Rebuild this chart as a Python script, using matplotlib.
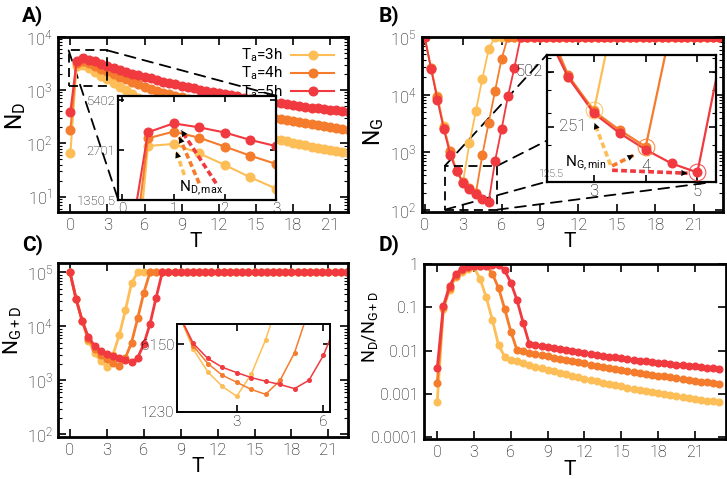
import numpy as np
import matplotlib
matplotlib.use('Agg')
import matplotlib.pyplot as plt
from matplotlib.patches import Rectangle, ConnectionPatch
from matplotlib.ticker import FixedLocator, FixedFormatter, LogLocator, NullFormatter, NullLocator
from matplotlib.transforms import blended_transform_factory

# ---------------- data ----------------
T = [0, 0.5, 1, 1.5, 2, 2.5, 3, 3.5, 4, 4.5, 5, 5.5, 6, 6.5, 7, 7.5, 8, 8.5, 9, 9.5,
     10, 10.5, 11, 11.5, 12, 12.5, 13, 13.5, 14, 14.5, 15, 15.5, 16, 16.5, 17, 17.5,
     18, 18.5, 19, 19.5, 20, 20.5, 21, 21.5, 22, 22.5, 23]

labels = ['$T_a$=3h', '$T_a$=4h', '$T_a$=5h']

# Panel A: N_D
ND_3 = [65, 2855, 2935, 2578, 2194, 1849, 1581, 1350, 1150, 990, 845, 720, 610, 555, 505,
        462, 425, 390, 355, 328, 302, 280, 258, 240, 222, 207, 193, 180, 168, 157, 147,
        138, 130, 122, 115, 109, 103, 97, 92, 87, 83, 79, 75, 72, 69, 66, 63]
ND_4 = [175, 3174, 3484, 3200, 2831, 2494, 2226, 1990, 1780, 1600, 1430, 1285, 1150, 1030,
        950, 890, 835, 780, 730, 685, 642, 602, 566, 532, 500, 472, 445, 420, 397, 375,
        355, 337, 320, 304, 289, 275, 262, 250, 239, 228, 218, 208, 199, 191, 183, 176, 169]
ND_5 = [390, 3452, 3905, 3695, 3440, 3103, 2850, 2560, 2370, 2200, 2010, 1890, 1780, 1650,
        1540, 1440, 1360, 1280, 1200, 1135, 1075, 1020, 968, 920, 875, 833, 794, 757, 722,
        690, 660, 633, 607, 583, 560, 539, 520, 502, 485, 469, 454, 440, 427, 414, 402, 391, 380]

# Panel B: N_G
NG_3 = [1e5, 28700, 9300, 2840, 1000, 470, 310, 1460, 5200, 18700, 60700] + [1e5] * 36
NG_4 = [1e5, 28600, 8900, 2660, 1050, 480, 305, 240, 195, 900, 3270, 11700, 40700] + [1e5] * 34
NG_5 = [1e5, 28000, 8000, 2500, 910, 468, 297, 231, 188, 158, 141, 716, 2500, 9300,
        29000] + [1e5] * 32

# Panel C: N_G+D
NGD_3 = [1e5, 31600, 12300, 5420, 3180, 2260, 1785, 3000, 6800, 19700, 63000] + [1e5] * 36
NGD_4 = [1e5, 31800, 12400, 5860, 3880, 2940, 2490, 2100, 1870, 2600, 5000, 14000,
         42000] + [1e5] * 34
NGD_5 = [1e5, 32000, 12500, 6240, 4370, 3550, 3130, 2780, 2550, 2360, 2140, 2610, 4700,
         11000, 34000] + [1e5] * 32

# Panel D: N_D / N_G+D
R_3 = [0.00065, 0.093, 0.26, 0.50, 0.68, 0.79, 0.85, 0.45, 0.17, 0.05, 0.0133, 0.0072,
       0.0061, 0.0056, 0.0050, 0.00462, 0.00425, 0.0039, 0.00355, 0.00328, 0.00302, 0.0028,
       0.00258, 0.0024, 0.00222, 0.00207, 0.00193, 0.0018, 0.00168, 0.00157, 0.00147,
       0.00138, 0.0013, 0.00122, 0.00115, 0.00109, 0.00103, 0.00097, 0.00092, 0.00087,
       0.00083, 0.00079, 0.00075, 0.00072, 0.00069, 0.00066, 0.00063]
R_4 = [0.00175, 0.10, 0.28, 0.55, 0.73, 0.85, 0.89, 0.93, 0.94, 0.60, 0.28, 0.092, 0.0274,
       0.0103, 0.0095, 0.0089, 0.00835, 0.0078, 0.0073, 0.00685, 0.00642, 0.00602, 0.00566,
       0.00532, 0.005, 0.00472, 0.00445, 0.0042, 0.00397, 0.00375, 0.00355, 0.00337, 0.0032,
       0.00304, 0.00289, 0.00275, 0.00262, 0.0025, 0.00239, 0.00228, 0.00218, 0.00208,
       0.00199, 0.00191, 0.00183, 0.00176, 0.00169]
R_5 = [0.0039, 0.108, 0.31, 0.59, 0.79, 0.87, 0.91, 0.92, 0.93, 0.94, 0.95, 0.72, 0.375,
       0.149, 0.0443, 0.0144, 0.0136, 0.0128, 0.012, 0.01135, 0.01075, 0.0102, 0.00968,
       0.0092, 0.00875, 0.00833, 0.00794, 0.00757, 0.00722, 0.0069, 0.0066, 0.00633,
       0.00607, 0.00583, 0.0056, 0.00539, 0.0052, 0.00502, 0.00485, 0.00469, 0.00454,
       0.0044, 0.00427, 0.00414, 0.00402, 0.00391, 0.0038]

A_IN_YTICKS = [1350.5, 2701, 5402]
B_IN_YTICKS = [125.5, 251, 502]
C_IN_YTICKS = [1230, 6150]
D_YTICKS = [0.0001, 0.001, 0.01, 0.1, 1]
D_YLABELS = ['0.0001', '0.001', '0.01', '0.1', '1']

COLORS = ['#FDBE57', '#F47C2C', '#F03A40']

# ---------------- style ----------------
plt.rcParams['font.family'] = ['Roboto', 'DejaVu Sans']
plt.rcParams['mathtext.fontset'] = 'custom'
plt.rcParams['mathtext.rm'] = 'Roboto'
plt.rcParams['mathtext.it'] = 'Roboto:italic'
plt.rcParams['mathtext.bf'] = 'Roboto:bold'
plt.rcParams['mathtext.default'] = 'regular'

fig = plt.figure(figsize=(7.27, 4.79), dpi=100)


def style(ax, fs=12, lw=2.0, pad=4, majlen=6):
    for s in ax.spines.values():
        s.set_linewidth(lw)
    ax.tick_params(which='both', direction='in', top=True, right=True)
    ax.tick_params(which='major', length=majlen, width=1.2, labelsize=fs, pad=pad)
    ax.tick_params(which='minor', length=3, width=0.8)


def light(ax):
    for lab in ax.get_xticklabels() + ax.get_yticklabels():
        lab.set_fontweight('light')


def logminor(ax):
    ax.yaxis.set_minor_locator(LogLocator(base=10, subs=np.arange(2, 10), numticks=20))
    ax.yaxis.set_minor_formatter(NullFormatter())


xt = [0, 3, 6, 9, 12, 15, 18, 21]
Ta_data = list(zip([ND_3, ND_4, ND_5], COLORS, labels))

# ---------------- Panel A ----------------
axA = fig.add_axes([0.0798, 0.5568, 0.3989, 0.3666])
for y, c, lab in Ta_data:
    axA.plot(T, y, '-o', color=c, ms=6.2, lw=1.5, label=lab)
axA.set_yscale('log')
axA.set_xlim(-1, 22.45)
axA.set_ylim(5.1, 1e4)
axA.set_xticks(xt)
axA.yaxis.set_major_locator(LogLocator(base=10, numticks=10))
logminor(axA)
style(axA)
axA.set_xlabel('T', fontsize=15)
axA.xaxis.set_label_coords(0.476, -0.115)
axA.set_ylabel('$N_D$', fontsize=16.5)
axA.yaxis.set_label_coords(-0.105, 0.55)
leg = axA.legend(loc='upper right', bbox_to_anchor=(1.0, 1.02), frameon=False,
                 markerfirst=False, fontsize=11, handlelength=2.8, labelspacing=0.05,
                 handletextpad=0.6, numpoints=1)
light(axA)

# zoom rectangle + connectors
rectA = ((-0.14, 1200), 3.14, 5530 - 1200)
axA.add_patch(Rectangle(rectA[0], rectA[1], rectA[2], fill=False, ls=(0, (5, 3)),
                        lw=1.3, ec='k', zorder=5))

axAi = fig.add_axes([0.1627, 0.5825, 0.2169, 0.2177])
for con in [((rectA[0][0] + rectA[1], rectA[0][1] + rectA[2]), (1, 1)),
            ((rectA[0][0], rectA[0][1] + rectA[2]), (0, 0))]:
    cp = ConnectionPatch(xyA=con[0], coordsA='data', axesA=axA,
                         xyB=con[1], coordsB=axAi.transAxes,
                         ls=(0, (6, 4)), lw=1.3, color='k', zorder=1)
    axA.add_artist(cp)

for y, c, lab in Ta_data:
    axAi.plot(T, y, '-o', color=c, ms=6.2, lw=1.5)
axAi.set_yscale('log')
axAi.set_xlim(-0.08, 3.0)
axAi.set_ylim(1350.5, 5730)
axAi.yaxis.set_major_locator(FixedLocator(A_IN_YTICKS))
axAi.yaxis.set_major_formatter(FixedFormatter(['1350.5', '2701', '5402']))
axAi.yaxis.set_minor_locator(NullLocator())
axAi.set_xticks([0, 1, 2, 3])
style(axAi, fs=9.5, lw=1.6, pad=2, majlen=4)
axAi.tick_params(axis='x', labelsize=11, pad=1.5)
light(axAi)

# N_D,max arrows
A_TAILS = [(1.21, 1910), (1.5, 1702), (1.83, 1702)]
A_HEAD_OFF = [(0.05, 0.9), (0.11, 0.93), (0.15, 0.91)]
for (y, c, lab), tail, off in zip(Ta_data, A_TAILS, A_HEAD_OFF):
    i = int(np.argmax(y))
    hx, hy = T[i] + off[0], y[i] * off[1]
    axAi.plot([tail[0], hx], [tail[1], hy], color=c, lw=2.6, ls=(0, (1.6, 0.9)),
              solid_capstyle='butt', zorder=4)
    sx = hx - 0.2 * (hx - tail[0])
    sy = hy * (tail[1] / hy) ** 0.2
    axAi.annotate('', xy=(hx, hy), xytext=(sx, sy),
                  arrowprops=dict(arrowstyle='-|>,head_length=0.45,head_width=0.22',
                                  color='k', lw=0.01, shrinkA=0, shrinkB=0), zorder=6)
axAi.text(1.53, 1600, '$N_{D,max}$', fontsize=11, ha='center', va='center')

# ---------------- Panel B ----------------
axB = fig.add_axes([0.580, 0.5568, 0.4149, 0.3666])
Tb_data = list(zip([NG_3, NG_4, NG_5], COLORS, labels))
for y, c, lab in Tb_data:
    axB.plot(T, y, '-o', color=c, ms=6.2, lw=1.3)
axB.set_yscale('log')
axB.set_xlim(-0.23, 23.3)
axB.set_ylim(92, 1e5)
axB.set_xticks(xt)
axB.yaxis.set_major_locator(LogLocator(base=10, numticks=10))
logminor(axB)
style(axB)
axB.set_xlabel('T', fontsize=15)
axB.xaxis.set_label_coords(0.49, -0.115)
axB.set_ylabel('$N_G$', fontsize=16.5)
axB.yaxis.set_label_coords(-0.118, 0.46)
light(axB)

rectB = ((1.58, 102), 4.08, 585 - 102)
axB.add_patch(Rectangle(rectB[0], rectB[1], rectB[2], fill=False, ls=(0, (5, 3)),
                        lw=1.3, ec='k', zorder=5))
axBi = fig.add_axes([0.752, 0.6207, 0.2325, 0.2645])
x0, y0 = rectB[0]
x1, y1 = x0 + rectB[1], y0 + rectB[2]
for pa, pb in [((x0, y1), (0, 1)), ((x1, y1), (1, 1)), ((x0, y0), (0, 0)), ((x1, y0), (1, 0))]:
    cp = ConnectionPatch(xyA=pa, coordsA='data', axesA=axB, xyB=pb, coordsB=axBi.transAxes,
                         ls=(0, (6, 4)), lw=1.3, color='k', zorder=1)
    axB.add_artist(cp)

for y, c, lab in Tb_data:
    axBi.plot(T, y, '-o', color=c, ms=6.2, lw=1.6)
axBi.set_yscale('log')
axBi.set_xlim(2.085, 5.355)
axBi.set_ylim(125.5, 620)
axBi.yaxis.set_major_locator(FixedLocator(B_IN_YTICKS))
axBi.yaxis.set_major_formatter(FixedFormatter(['', '', '']))
axBi.yaxis.set_minor_locator(LogLocator(base=10, subs=np.arange(1, 10) * 1.0, numticks=20))
axBi.yaxis.set_minor_formatter(NullFormatter())
axBi.set_xticks([3, 4, 5])
axBi.set_xticklabels(['3', '', '5'])
style(axBi, fs=12, lw=1.6, pad=2, majlen=5)
light(axBi)
trB = blended_transform_factory(axBi.transAxes, axBi.transData)
axBi.text(-0.02, B_IN_YTICKS[2], '502', transform=trB, ha='right', va='center',
          fontsize=12, fontweight='light')
axBi.text(0.075, B_IN_YTICKS[1], '251', transform=trB, ha='left', va='center',
          fontsize=12, fontweight='light')
axBi.text(0.03, B_IN_YTICKS[0] * 1.1, '125.5', transform=trB, ha='center', va='center',
          fontsize=7.5, fontweight='light')
axBi.text(4, 152, '4', ha='center', va='center', fontsize=12, fontweight='light')

B_TAILS = [(3.32, 155), (3.35, 153), (3.35, 145)]
B_HEAD_OFF = [(0.01, 0.85), (-0.23, 0.9), (-0.19, 0.99)]
for (y, c, lab), tail, off in zip(Tb_data, B_TAILS, B_HEAD_OFF):
    i = int(np.argmin(y))
    axBi.plot([T[i]], [y[i]], 'o', mfc='none', mec=c, ms=12, mew=0.8, alpha=0.85, zorder=3)
    hx, hy = T[i] + off[0], y[i] * off[1]
    axBi.plot([tail[0], hx], [tail[1], hy], color=c, lw=2.6, ls=(0, (1.6, 0.9)),
              solid_capstyle='butt', zorder=4)
    sx = hx - 0.2 * (hx - tail[0])
    sy = hy * (tail[1] / hy) ** 0.2
    axBi.annotate('', xy=(hx, hy), xytext=(sx, sy),
                  arrowprops=dict(arrowstyle='-|>,head_length=0.45,head_width=0.22',
                                  color='k', lw=0.01, shrinkA=0, shrinkB=0), zorder=6)
axBi.text(2.84, 158, '$N_{G,min}$', fontsize=11, ha='center', va='center')

# ---------------- Panel C ----------------
axC = fig.add_axes([0.0802, 0.0877, 0.3989, 0.3632])
Tc_data = list(zip([NGD_3, NGD_4, NGD_5], COLORS, labels))
for y, c, lab in Tc_data:
    axC.plot(T, y, '-o', color=c, ms=4.8, lw=2.0)
axC.set_yscale('log')
axC.set_xlim(-0.95, 22.62)
axC.set_ylim(89, 1.49e5)
axC.set_xticks(xt)
axC.yaxis.set_major_locator(LogLocator(base=10, numticks=10))
logminor(axC)
style(axC)
axC.set_xlabel('T', fontsize=15)
axC.xaxis.set_label_coords(0.479, -0.115)
axC.set_ylabel('$N_{G+D}$', fontsize=15)
axC.yaxis.set_label_coords(-0.12, 0.615)
light(axC)

axCi = fig.add_axes([0.2435, 0.1399, 0.2105, 0.1837])
for y, c, lab in Tc_data:
    axCi.plot(T, y, '-o', color=c, ms=2.6, lw=1.1)
axCi.set_yscale('log')
axCi.set_xlim(0.935, 6.23)
axCi.set_ylim(1230, 9900)
axCi.yaxis.set_major_locator(FixedLocator(C_IN_YTICKS))
axCi.yaxis.set_major_formatter(FixedFormatter(['1230', '6150']))
axCi.yaxis.set_minor_locator(NullLocator())
axCi.set_xticks([3, 6])
style(axCi, fs=11, lw=1.4, pad=2, majlen=5)
light(axCi)

# ---------------- Panel D ----------------
axD = fig.add_axes([0.5832, 0.0835, 0.4148, 0.3647])
Td_data = list(zip([R_3, R_4, R_5], COLORS, labels))
for y, c, lab in Td_data:
    axD.plot(T, y, '-o', color=c, ms=4.8, lw=2.0)
axD.set_yscale('log')
axD.set_xlim(-1.08, 23.5)
axD.set_ylim(8.85e-5, 1)
axD.set_xticks(xt)
axD.yaxis.set_major_locator(FixedLocator(D_YTICKS))
axD.yaxis.set_major_formatter(FixedFormatter(D_YLABELS))
axD.yaxis.set_minor_locator(NullLocator())
style(axD, fs=11.5)
axD.set_xlabel('T', fontsize=15)
axD.xaxis.set_label_coords(0.484, -0.12)
axD.set_ylabel('$N_D/N_{G+D}$', fontsize=13)
axD.yaxis.set_label_coords(-0.145, 0.64)
light(axD)

# panel letters
for x, y, s in [(0.030, 0.988, 'A)'), (0.521, 0.988, 'B)'), (0.030, 0.51, 'C)'), (0.521, 0.51, 'D)')]:
    fig.text(x, y, s, fontsize=15, fontweight='bold', ha='left', va='top')

fig.savefig('out.png', dpi=100)
